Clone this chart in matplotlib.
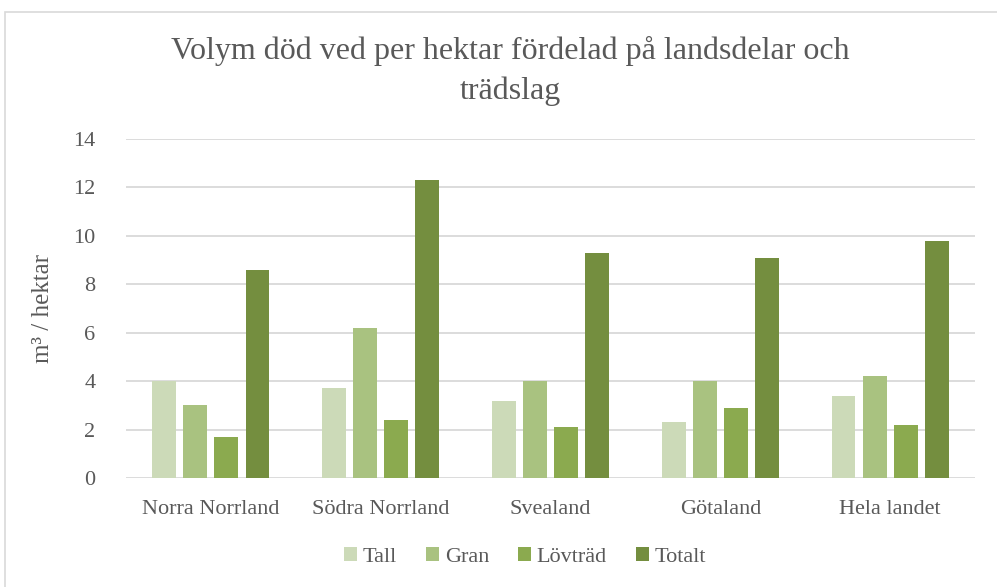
import numpy as np
import matplotlib
matplotlib.use("Agg")
import matplotlib.pyplot as plt
from matplotlib.patches import Rectangle

regions = ["Norra Norrland", "Södra Norrland", "Svealand", "Götaland", "Hela landet"]
series = ["Tall", "Gran", "Lövträd", "Totalt"]
tall = [4.0, 3.7, 3.2, 2.3, 3.4]
gran = [3.0, 6.2, 4.0, 4.0, 4.2]
lovtrad = [1.7, 2.4, 2.1, 2.9, 2.2]
totalt = [8.6, 12.3, 9.3, 9.1, 9.8]
colors = ["#CCDAB8", "#A9C280", "#8BAA4F", "#748E3F"]

plt.rcParams["font.family"] = ["Liberation Serif", "DejaVu Serif"]
text_col = "#595959"

fig = plt.figure(figsize=(9.97, 5.87), dpi=100)
fig.patches.append(Rectangle((5 / 997, -0.01), 1.0, 1 - 12 / 587 + 0.01, transform=fig.transFigure,
                             fill=False, edgecolor="#D9D9D9", linewidth=1.2))
ax = fig.add_axes([126 / 997, 1 - 478 / 587, (975 - 126) / 997, (478 - 139) / 587])

x = np.arange(len(regions))
w, step = 0.141, 0.183
for i, (vals, name) in enumerate(zip([tall, gran, lovtrad, totalt], series)):
    ax.bar(x + (i - 1.5) * step, vals, width=w, color=colors[i], label=name, zorder=3)

ax.set_xlim(-0.5, len(regions) - 0.5)
ax.set_ylim(0, 14)
ax.set_yticks(range(0, 15, 2))
ax.yaxis.grid(True, color="#D9D9D9", linewidth=1.3, zorder=0)
ax.tick_params(axis="both", length=0, labelsize=16, colors=text_col)
ax.tick_params(axis="x", pad=16)
ax.tick_params(axis="y", pad=22)
ax.set_xticks(x)
ax.set_xticklabels(regions)
for s in ax.spines.values():
    s.set_visible(False)
ax.set_ylabel("m³ / hektar", fontsize=18, color=text_col, labelpad=14)

fig.text(0.512, 1 - 71 / 587, "Volym död ved per hektar fördelad på landsdelar och\nträdslag",
         ha="center", va="center", fontsize=23, color=text_col, linespacing=1.45)

ax.legend(loc="center", bbox_to_anchor=(0.47, -0.232), ncol=4, frameon=False, fontsize=16,
          handlelength=0.6, handleheight=0.6, handletextpad=0.25, columnspacing=1.3,
          labelcolor=text_col)

fig.savefig("out.png", dpi=100)
